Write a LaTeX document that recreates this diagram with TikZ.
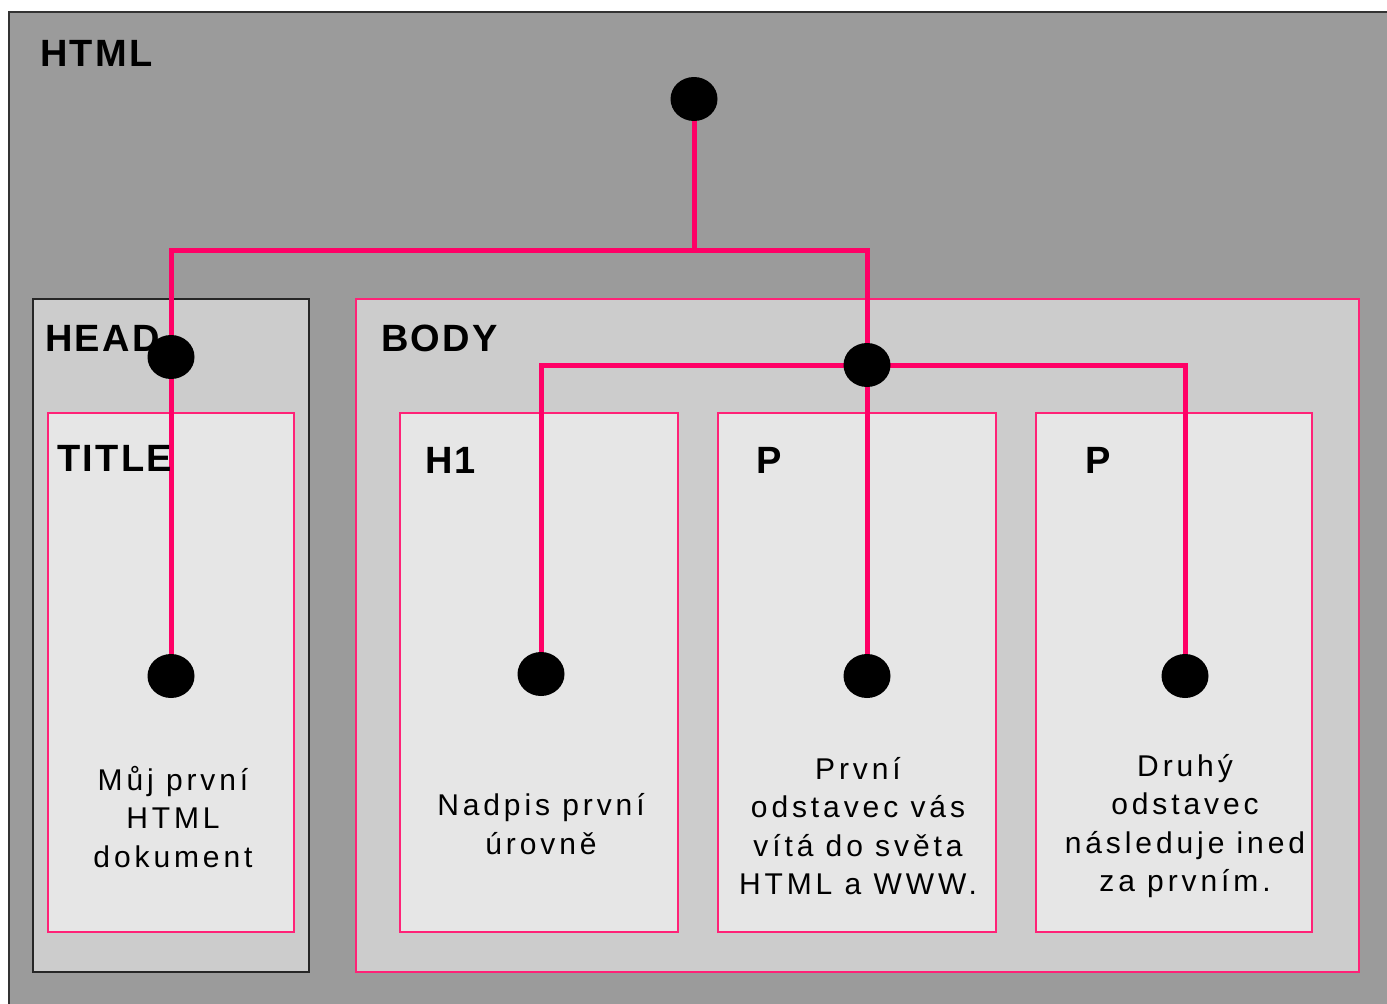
\documentclass[tikz,border=0pt]{standalone}
\usepackage{fontspec}
\usetikzlibrary{shapes.geometric,backgrounds}
\setmainfont{Liberation Sans}
\newfontfamily\txtfont[LetterSpace=13]{Liberation Sans}
\newfontfamily\labfont[LetterSpace=6]{Liberation Sans Bold}
\definecolor{outergray}{HTML}{9B9B9B}
\definecolor{midgray}{HTML}{CCCCCC}
\definecolor{lightgray}{HTML}{E6E6E6}
\definecolor{pinkline}{HTML}{FF0066}
\definecolor{pinkborder}{HTML}{FF2277}
\pgfdeclarelayer{lines}
\pgfsetlayers{background,lines,main}
\begin{document}
\begin{tikzpicture}[x=1pt,y=-1pt,
  htmlbox/.style={draw=black!80, line width=2pt, fill=outergray},
  headbox/.style={draw=black!85, line width=2pt, fill=midgray, inner sep=0pt, outer sep=0pt},
  bodybox/.style={draw=pinkborder, line width=2pt, fill=midgray, inner sep=0pt, outer sep=0pt},
  elbox/.style={draw=pinkborder, line width=2pt, fill=lightgray, inner sep=0pt, outer sep=0pt},
  lab/.style={anchor=base west, inner sep=0pt, font=\labfont\fontsize{38}{44}\selectfont},
  txt/.style={align=center, inner sep=0pt, font=\txtfont\fontsize{30}{38.3}\selectfont},
  dot/.style={ellipse, fill=black, minimum width=47pt, minimum height=44pt, inner sep=0pt},
  conn/.style={draw=pinkline, line width=5pt}
]
\useasboundingbox (0,0) rectangle (1387,1004);
\clip (0,0) rectangle (1387,1004);
\begin{pgfonlayer}{background}
\fill[white] (0,0) rectangle (1387,1004);
\node[htmlbox, minimum width=1440pt, minimum height=1050pt, anchor=north west, inner sep=0pt] (html) at (8,11) {};
\node[headbox, minimum width=276pt, minimum height=673pt] (head) at (171,635.5) {};
\node[bodybox, minimum width=1003pt, minimum height=673pt] (body) at (857.5,635.5) {};
\node[elbox, minimum width=246pt, minimum height=519pt] (title) at (171,672.5) {};
\node[elbox, minimum width=278pt, minimum height=519pt] (h1) at (539,672.5) {};
\node[elbox, minimum width=278pt, minimum height=519pt] (p1) at (857,672.5) {};
\node[elbox, minimum width=276pt, minimum height=519pt] (p2) at (1174,672.5) {};
\end{pgfonlayer}
% labels
\node[lab] (lhtml) at (40,66) {HTML};
\node[lab] (lhead) at (45,351) {HEAD};
\node[lab] (ltitle) at (57,471) {TITLE};
\node[lab] (lbody) at (381,351) {BODY};
\node[lab] (lh1) at (425,473) {H1};
\node[lab] (lp1) at (756,473) {P};
\node[lab] (lp2) at (1085,473) {P};
% texts
\node[txt] (ttitle) at (173,817) {Můj první\\HTML\\dokument};
\node[txt] (th1) at (541,824) {Nadpis první\\úrovně};
\node[txt] (tp1) at (858,826) {První\\odstavec vás\\vítá do světa\\HTML a WWW.};
\node[txt] (tp2) at (1185,826) {Druhý\\odstavec\\následuje ined\\za prvním.};
% dots
\node[dot] (dtop) at (694,99) {};
\node[dot] (dhead) at (171,357) {};
\node[dot] (dbody) at (867,365) {};
\node[dot] (dtitle) at (171,676) {};
\node[dot] (dh1) at (541,674) {};
\node[dot] (dp1) at (867,676) {};
\node[dot] (dp2) at (1185,676) {};
\coordinate (j1) at (694,250);
% connectors
\begin{pgfonlayer}{lines}
\draw[conn] (dtop.center) -- (j1);
\draw[conn] (dtitle.center) |- (j1) -| (dp1.center);
\draw[conn] (dh1.center) |- (dbody.center) -| (dp2.center);
\end{pgfonlayer}
\end{tikzpicture}
\end{document}
